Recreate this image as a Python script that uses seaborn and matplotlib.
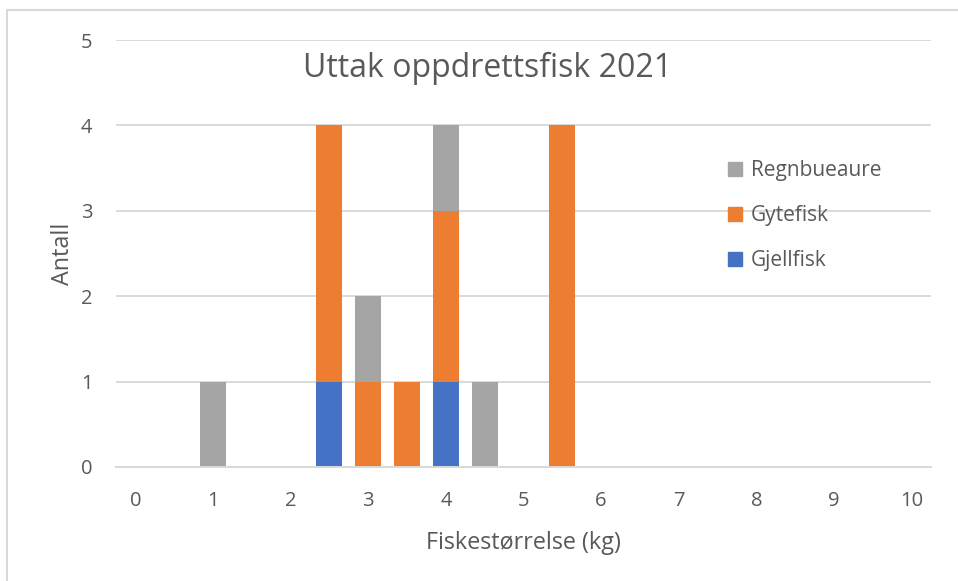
import pandas as pd
import seaborn as sns
from matplotlib import pyplot as plt
from matplotlib.patches import Patch, Rectangle

# fish size (kg) and number of fish removed per cause
sizes = [1, 2.5, 3, 3.5, 4, 4.5, 5.5]
gjellfisk = [0, 1, 0, 0, 1, 0, 0]
gytefisk = [0, 3, 1, 1, 2, 0, 4]
regnbueaure = [1, 0, 1, 0, 1, 1, 0]
series_names = ['Gjellfisk', 'Gytefisk', 'Regnbueaure']
x_ticks = list(range(0, 11))
y_ticks = list(range(0, 6))

colors = {'Gjellfisk': '#4472C4', 'Gytefisk': '#ED7D31', 'Regnbueaure': '#A5A5A5'}
text_color = '#595959'
grid_color = '#D9D9D9'


def render_plot(df: pd.DataFrame) -> None:
    sns.set_theme(style='white')
    plt.rcParams['font.family'] = ['Open Sans', 'DejaVu Sans']

    fig = plt.figure(figsize=(9.58, 5.81), dpi=100)
    ax = fig.add_axes([116 / 958, 114 / 581, 815 / 958, 427 / 581])

    # stacked bars: draw cumulative totals from the top series down
    df['cum_Gjellfisk'] = df['Gjellfisk']
    df['cum_Gytefisk'] = df['cum_Gjellfisk'] + df['Gytefisk']
    df['cum_Regnbueaure'] = df['cum_Gytefisk'] + df['Regnbueaure']
    for name in reversed(series_names):
        sns.barplot(data=df, x='size', y=f'cum_{name}', native_scale=True,
                    color=colors[name], saturation=1, width=0.67,
                    linewidth=0, errorbar=None, ax=ax, zorder=2)

    ax.set_xlim(-0.25, 10.25)
    ax.set_ylim(0, 5)
    ax.set_xticks(x_ticks)
    ax.set_yticks(y_ticks)
    ax.tick_params(axis='both', length=0, labelsize=14.5, colors=text_color)
    ax.tick_params(axis='x', pad=17)
    ax.tick_params(axis='y', pad=17)
    ax.grid(axis='y', color=grid_color, linewidth=1.4, zorder=0)
    ax.set_axisbelow(True)
    for side in ['left', 'right', 'top']:
        ax.spines[side].set_visible(False)
    ax.spines['bottom'].set_color(grid_color)
    ax.spines['bottom'].set_linewidth(1.4)

    ax.set_xlabel('Fiskestørrelse (kg)', fontsize=16.8, color=text_color,
                  labelpad=15)
    ax.set_ylabel('Antall', fontsize=16.8, color=text_color, labelpad=4)

    fig.text(488 / 958, 1 - 68 / 581, 'Uttak oppdrettsfisk 2021',
             fontsize=23, color=text_color, ha='center', va='center')

    handles = [Patch(color=colors[n], label=n) for n in reversed(series_names)]
    ax.legend(handles=handles, loc='upper left',
              bbox_to_anchor=(0.728, 0.762), frameon=False,
              fontsize=15, labelcolor=text_color, handlelength=0.65,
              handleheight=0.65, handletextpad=0.45, labelspacing=1.15)

    # light chart-area border (left and top edges visible)
    fig.patches.append(Rectangle((7 / 958, -0.1), 1.2, 1 - 10 / 581 + 0.1,
                                 transform=fig.transFigure, fill=False,
                                 edgecolor=grid_color, linewidth=1.5))

    fig.savefig('out.png', dpi=100)


df_fish = pd.DataFrame({'size': sizes, 'Gjellfisk': gjellfisk,
                        'Gytefisk': gytefisk, 'Regnbueaure': regnbueaure})
render_plot(df_fish)
